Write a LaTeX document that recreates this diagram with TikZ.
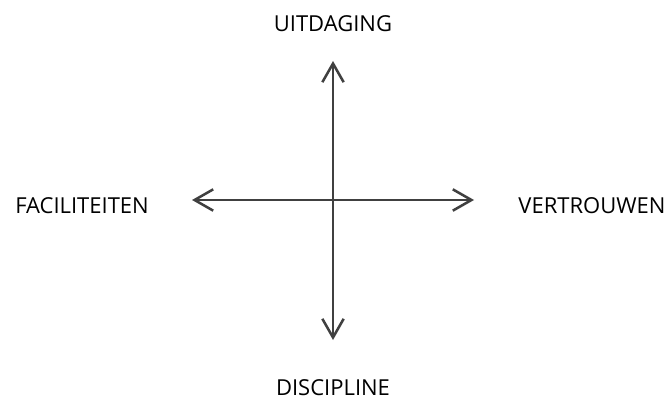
\documentclass[tikz,border=0pt]{standalone}
\usepackage{fontspec}
\setmainfont{Open Sans}
\usetikzlibrary{arrows.meta}
\begin{document}
\begin{tikzpicture}[x=0.75pt,y=-0.75pt,
  axis/.style={draw=black!75, line width=1.9pt,
    {Straight Barb[length=14pt,width=16pt]}-{Straight Barb[length=14pt,width=16pt]}},
  lbl/.style={font=\fontsize{16.5}{19}\selectfont, text=black, inner sep=0pt}]
\useasboundingbox (0,0) rectangle (671,403);
% axis labels
\node[lbl] (top) at (333,24) {UITDAGING};
\node[lbl] (bottom) at (333,388) {DISCIPLINE};
\node[lbl] (left) at (82,206) {FACILITEITEN};
\node[lbl] (right) at (592,206) {VERTROUWEN};
% arrow ends of the two crossing axes
\coordinate (n) at (333,61);
\coordinate (s) at (333,340);
\coordinate (w) at (192,200);
\coordinate (e) at (474,200);
\draw[axis] (s) -- (n);
\draw[axis] (w) -- (e);
\end{tikzpicture}
\end{document}
